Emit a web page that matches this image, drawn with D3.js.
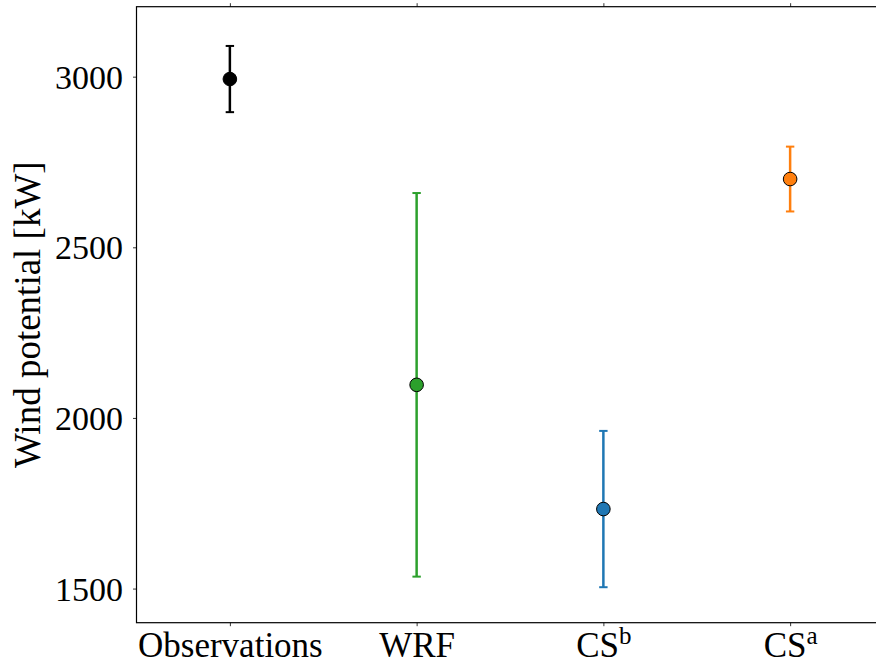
<!DOCTYPE html>
<html>
<head>
<meta charset="utf-8">
<script src="https://cdn.jsdelivr.net/npm/d3@7"></script>
<style>
  body { margin: 0; background: #fff; }
  svg { display: block; overflow: hidden; }
  text { font-family: "Liberation Serif", "DejaVu Serif", serif; fill: #000; }
</style>
</head>
<body>
<div id="chart"></div>
<script>
// Data
const categories = ["Observations", "WRF", "CSb", "CSa"];
const labelBase = ["Observations", "WRF", "CS", "CS"];
const labelSup = ["", "", "b", "a"];
const means = [2993, 2097, 1733, 2700];
const errors = [97, 562, 229, 95];
const colors = ["#000000", "#2ca02c", "#1f77b4", "#ff7f0e"];
const yTicks = [1500, 2000, 2500, 3000];

// Layout
const W = 876, H = 666;
const margin = { top: 6.7, left: 136.5 };
const plotW = 747, plotH = 616;

const svg = d3.select("#chart").append("svg")
  .attr("width", W)
  .attr("height", H);

const x = d3.scaleLinear()
  .domain([-0.5, categories.length - 0.5])
  .range([margin.left, margin.left + plotW]);

const y = d3.scaleLinear()
  .domain([1400, 3205])
  .range([margin.top + plotH, margin.top]);

// Y axis
const yAxis = svg.append("g")
  .attr("transform", `translate(${margin.left},0)`)
  .call(d3.axisLeft(y).tickValues(yTicks).tickSize(3.5).tickPadding(10).tickFormat(d3.format("d")));
yAxis.select(".domain").remove();
yAxis.selectAll("line").attr("stroke", "#000").attr("stroke-width", 0.8);
yAxis.selectAll("text")
  .attr("font-family", null)
  .style("font-size", "34px")
  .attr("dy", "0.34em");

// X axis (bottom)
const xAxis = svg.append("g")
  .attr("transform", `translate(0,${margin.top + plotH})`)
  .call(d3.axisBottom(x).tickValues(d3.range(categories.length)).tickSize(3.5).tickFormat(""));
xAxis.select(".domain").remove();
xAxis.selectAll("line").attr("stroke", "#000").attr("stroke-width", 0.8);

xAxis.selectAll(".tick").each(function (d) {
  const t = d3.select(this).append("text")
    .attr("y", 34)
    .attr("text-anchor", "middle")
    .style("font-size", "35px");
  t.append("tspan").text(labelBase[d]);
  if (labelSup[d]) {
    t.append("tspan")
      .attr("dy", -13)
      .style("font-size", "25px")
      .text(labelSup[d]);
  }
});

// top ticks
const xTop = svg.append("g")
  .attr("transform", `translate(0,${margin.top})`)
  .call(d3.axisTop(x).tickValues(d3.range(categories.length)).tickSize(3.5).tickFormat(""));
xTop.select(".domain").remove();
xTop.selectAll("line").attr("stroke", "#000").attr("stroke-width", 0.8);

// Frame
svg.append("rect")
  .attr("x", margin.left)
  .attr("y", margin.top)
  .attr("width", plotW)
  .attr("height", plotH)
  .attr("fill", "none")
  .attr("stroke", "#000")
  .attr("stroke-width", 1.2);

// Y label
svg.append("text")
  .attr("transform", `translate(40,${margin.top + plotH / 2}) rotate(-90)`)
  .attr("text-anchor", "middle")
  .style("font-size", "37px")
  .text("Wind potential [kW]");

// Error bars
const groups = svg.append("g").selectAll("g")
  .data(categories)
  .join("g");

groups.append("line")
  .attr("x1", (d, i) => x(i))
  .attr("x2", (d, i) => x(i))
  .attr("y1", (d, i) => y(means[i] + errors[i]))
  .attr("y2", (d, i) => y(means[i] - errors[i]))
  .attr("stroke", (d, i) => colors[i])
  .attr("stroke-width", 2.5);

[1, -1].forEach(s => {
  groups.append("line")
    .attr("x1", (d, i) => x(i) - 4.2)
    .attr("x2", (d, i) => x(i) + 4.2)
    .attr("y1", (d, i) => y(means[i] + s * errors[i]))
    .attr("y2", (d, i) => y(means[i] + s * errors[i]))
    .attr("stroke", (d, i) => colors[i])
    .attr("stroke-width", 2);
});

groups.append("circle")
  .attr("cx", (d, i) => x(i))
  .attr("cy", (d, i) => y(means[i]))
  .attr("r", 6.8)
  .attr("fill", (d, i) => colors[i])
  .attr("stroke", "#000")
  .attr("stroke-width", 1);
</script>
</body>
</html>
